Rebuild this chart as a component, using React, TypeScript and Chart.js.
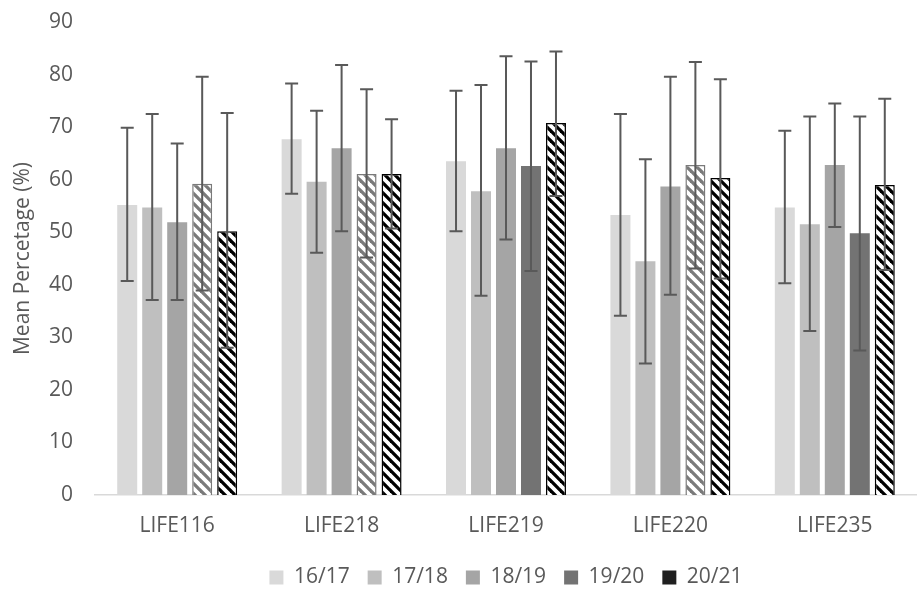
import React, { useEffect, useRef } from "react";
import { Chart, registerables } from "chart.js";

Chart.register(...registerables);

const categories = ["LIFE116", "LIFE218", "LIFE219", "LIFE220", "LIFE235"];
const seriesNames = ["16/17", "17/18", "18/19", "19/20", "20/21"];

const means1617 = [55.2, 67.7, 63.5, 53.3, 54.7];
const means1718 = [54.7, 59.6, 57.8, 44.5, 51.5];
const means1819 = [51.9, 66.0, 66.0, 58.7, 62.8];
const means1920 = [59.2, 61.1, 62.6, 62.8, 49.8];
const means2021 = [50.2, 61.1, 70.8, 60.3, 59.0];

const upper1617 = [69.9, 78.3, 76.9, 72.5, 69.3];
const upper1718 = [72.5, 73.1, 78.0, 63.9, 72.0];
const upper1819 = [66.9, 81.8, 83.5, 79.6, 74.5];
const upper1920 = [79.6, 77.2, 82.5, 82.4, 72.0];
const upper2021 = [72.7, 71.5, 84.4, 79.1, 75.4];

const lower1617 = [40.7, 57.3, 50.2, 34.1, 40.3];
const lower1718 = [37.1, 46.1, 37.9, 25.0, 31.2];
const lower1819 = [37.1, 50.2, 48.6, 38.1, 51.0];
const lower1920 = [38.9, 45.2, 42.6, 43.1, 27.5];
const lower2021 = [28.0, 50.7, 56.9, 41.2, 42.8];

// which 19/20 bars are drawn hatched (true) vs solid (false)
const hatched1920 = [true, true, false, true, false];

const yTicks = [0, 10, 20, 30, 40, 50, 60, 70, 80, 90];

const solidColors = ["#d9d9d9", "#bfbfbf", "#a5a5a5", "#737373", "#1f1f1f"];

function makeHatch(color: string): CanvasPattern | string {
  const size = 10;
  const c = document.createElement("canvas");
  c.width = size;
  c.height = size;
  const ctx = c.getContext("2d");
  if (!ctx) return color;
  ctx.fillStyle = "#ffffff";
  ctx.fillRect(0, 0, size, size);
  ctx.strokeStyle = color;
  ctx.lineWidth = 3.3;
  ctx.lineCap = "square";
  for (let k = -1; k <= 1; k++) {
    ctx.beginPath();
    ctx.moveTo(k * size, 0);
    ctx.lineTo(k * size + size, size);
    ctx.stroke();
  }
  const p = ctx.createPattern(c, "repeat");
  return p || color;
}

export default function App() {
  const ref = useRef<HTMLCanvasElement | null>(null);

  useEffect(() => {
    document.body.style.margin = "0";
    const canvas = ref.current;
    if (!canvas) return;

    const grayHatch = makeHatch("#7a7a7a");
    const blackHatch = makeHatch("#000000");

    const means = [means1617, means1718, means1819, means1920, means2021];
    const uppers = [upper1617, upper1718, upper1819, upper1920, upper2021];
    const lowers = [lower1617, lower1718, lower1819, lower1920, lower2021];

    const datasets: any[] = means.map((m, i) => {
      let bg: any = solidColors[i];
      let bc: any = solidColors[i];
      let bw: any = 0;
      if (i === 3) {
        bg = hatched1920.map((h) => (h ? grayHatch : solidColors[3]));
        bc = hatched1920.map((h) => (h ? "#7a7a7a" : solidColors[3]));
        bw = hatched1920.map((h) => (h ? 1.5 : 0));
      } else if (i === 4) {
        bg = blackHatch;
        bc = "#000000";
        bw = 1.5;
      }
      return {
        label: seriesNames[i],
        data: m,
        backgroundColor: bg,
        borderColor: bc,
        borderWidth: bw,
        barPercentage: 0.8,
        categoryPercentage: 0.76,
      };
    });

    const errorBars = {
      id: "errorBars",
      afterDatasetsDraw(chart: any) {
        const ctx = chart.ctx;
        const y = chart.scales.y;
        ctx.save();
        ctx.strokeStyle = "#595959";
        ctx.lineWidth = 2;
        chart.data.datasets.forEach((_: any, i: number) => {
          const meta = chart.getDatasetMeta(i);
          meta.data.forEach((el: any, j: number) => {
            const x = el.x;
            const yt = y.getPixelForValue(uppers[i][j]);
            const yb = y.getPixelForValue(lowers[i][j]);
            const cap = 6.5;
            ctx.beginPath();
            ctx.moveTo(x, yt);
            ctx.lineTo(x, yb);
            ctx.moveTo(x - cap, yt);
            ctx.lineTo(x + cap, yt);
            ctx.moveTo(x - cap, yb);
            ctx.lineTo(x + cap, yb);
            ctx.stroke();
          });
        });
        ctx.restore();
      },
    };

    const legendHeight = {
      id: "legendHeight",
      beforeLayout(chart: any) {
        const l = chart.legend;
        if (l && !l._patchedFit) {
          const orig = l.fit;
          l.fit = function () {
            orig.call(this);
            this.height = 40;
          };
          l._patchedFit = true;
        }
      },
    };

    const font = { family: "'Open Sans', sans-serif", size: 21 };

    const chart = new Chart(canvas, {
      type: "bar",
      data: { labels: categories, datasets },
      plugins: [errorBars, legendHeight],
      options: {
        animation: false,
        responsive: false,
        maintainAspectRatio: false,
        layout: { padding: { top: 22, right: 0, bottom: 0, left: 0 } },
        plugins: {
          tooltip: { enabled: false },
          legend: {
            position: "bottom",
            fullSize: false,
            labels: {
              color: "#595959",
              font,
              boxWidth: 14,
              boxHeight: 14,
              padding: 18,
              generateLabels: () =>
                seriesNames.map((n, i) => ({
                  text: n,
                  fillStyle: solidColors[i],
                  strokeStyle: solidColors[i],
                  lineWidth: 0,
                  hidden: false,
                  datasetIndex: i,
                  fontColor: "#595959",
                })),
            },
          },
        },
        scales: {
          x: {
            afterFit: (scale: any) => {
              scale.height = 54;
            },
            grid: { display: false, drawTicks: false },
            border: { display: true, color: "#d9d9d9", width: 1.5 },
            ticks: { color: "#595959", font, padding: 18 },
          },
          y: {
            min: 0,
            max: 90,
            afterBuildTicks: (scale: any) => {
              scale.ticks = yTicks.map((v) => ({ value: v }));
            },
            afterFit: (scale: any) => {
              scale.width = 95;
              scale.paddingTop = 0;
              scale.paddingBottom = 0;
            },
            grid: { display: false, drawTicks: false },
            border: { display: false },
            ticks: { color: "#595959", font, padding: 22 },
            title: {
              display: true,
              text: "Mean Percetage (%)",
              color: "#595959",
              font,
              padding: { top: 10, bottom: 0 },
            },
          },
        },
      },
    });

    return () => chart.destroy();
  }, []);

  return (
    <div style={{ width: 917, height: 589 }}>
      <canvas ref={ref} width={917} height={589} style={{ width: 917, height: 589 }} />
    </div>
  );
}
